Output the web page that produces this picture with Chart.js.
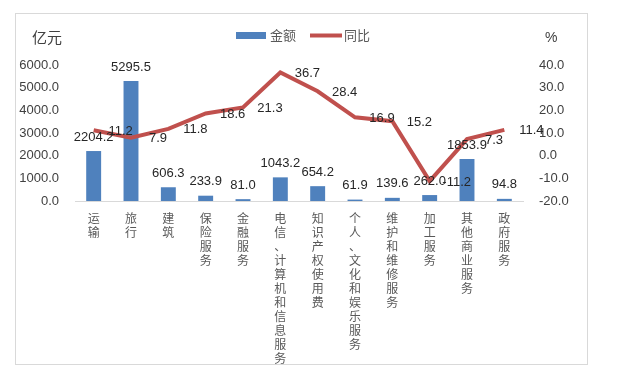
<!DOCTYPE html>
<html><head><meta charset="utf-8">
<script src="https://cdn.jsdelivr.net/npm/chart.js@4.4.0/dist/chart.umd.min.js"></script>
<style>html,body{margin:0;padding:0;background:#fff;}#wrap{position:relative;width:620px;height:379px;}</style>
</head><body><div id="wrap"><canvas id="c" width="620" height="379"></canvas></div>
<script>
const categories = ['运输','旅行','建筑','保险服务','金融服务','电信、计算机和信息服务','知识产权使用费','个人、文化和娱乐服务','维护和维修服务','加工服务','其他商业服务','政府服务'];
const amounts = [2204.2,5295.5,606.3,233.9,81.0,1043.2,654.2,61.9,139.6,262.0,1853.9,94.8];
const yoy = [11.2,7.9,11.8,18.6,21.3,36.7,28.4,16.9,15.2,-11.2,7.3,11.4];
const seriesNames = ['金额','同比'];
const leftAxis = {min:0, max:6000, step:1000, title:'亿元'};
const rightAxis = {min:-20, max:40, step:10, title:'%'};

const BLUE = '#4F81BD', RED = '#C0504D';
const NUM_FONT = '13px "Liberation Sans", Arial, sans-serif';
const CJK = '"Noto Sans CJK SC", sans-serif';

const decor = {
  id: 'decor',
  beforeDraw(chart) {
    const ctx = chart.ctx;
    ctx.save();
    ctx.fillStyle = '#fff';
    ctx.fillRect(0, 0, chart.width, chart.height);
    ctx.strokeStyle = '#D9D9D9';
    ctx.lineWidth = 1;
    ctx.strokeRect(15.5, 13.5, 572, 351);
    ctx.restore();
  },
  afterDatasetsDraw(chart) {
    const ctx = chart.ctx;
    ctx.save();
    ctx.font = NUM_FONT;
    ctx.fillStyle = '#262626';
    ctx.textBaseline = 'middle';
    ctx.textAlign = 'center';
    chart.getDatasetMeta(0).data.forEach((el, i) => {
      ctx.fillText(amounts[i].toFixed(1), el.x, el.y - 14);
    });
    chart.getDatasetMeta(1).data.forEach((el, i) => {
      ctx.fillText(yoy[i].toFixed(1), el.x + 27, el.y + 1);
    });
    ctx.restore();
  },
  afterDraw(chart) {
    const ctx = chart.ctx;
    ctx.save();
    ctx.textBaseline = 'middle';
    ctx.textAlign = 'left';
    ctx.fillStyle = BLUE;
    ctx.fillRect(236, 32, 30, 7);
    ctx.fillStyle = '#595959';
    ctx.font = '13px ' + CJK;
    ctx.fillText(seriesNames[0], 270, 35);
    ctx.strokeStyle = RED;
    ctx.lineWidth = 4;
    ctx.beginPath(); ctx.moveTo(310, 35.5); ctx.lineTo(342, 35.5); ctx.stroke();
    ctx.fillText(seriesNames[1], 344, 35);
    ctx.fillStyle = '#404040';
    ctx.font = '15px ' + CJK;
    ctx.fillText(leftAxis.title, 32, 37);
    ctx.font = '14px "Liberation Sans", Arial, sans-serif';
    ctx.fillText(rightAxis.title, 545, 38);
    ctx.restore();
  }
};

new Chart(document.getElementById('c'), {
  data: {
    labels: categories,
    datasets: [
      { type: 'bar', label: seriesNames[0], data: amounts, backgroundColor: BLUE, yAxisID: 'y', order: 1,
        barPercentage: 0.4, categoryPercentage: 1.0 },
      { type: 'line', label: seriesNames[1], data: yoy, borderColor: RED, borderWidth: 4, pointRadius: 0,
        tension: 0, fill: false, yAxisID: 'y1', order: 0 }
    ]
  },
  options: {
    responsive: false,
    animation: false,
    devicePixelRatio: 1,
    layout: { padding: { top: 65, left: 0, right: 0, bottom: 0 } },
    plugins: { legend: { display: false }, tooltip: { enabled: false } },
    scales: {
      x: {
        offset: true,
        grid: { display: false, drawTicks: false },
        border: { display: true, color: '#D9D9D9', width: 1 },
        ticks: {
          autoSkip: false, maxRotation: 0, minRotation: 0, padding: 10,
          color: '#595959',
          font: { family: CJK, size: 12, lineHeight: '14px' },
          callback: function(v, i) { return categories[i].split(''); }
        },
        afterFit(s) { s.height = 178; }
      },
      y: {
        position: 'left', min: leftAxis.min, max: leftAxis.max,
        grid: { display: false, drawTicks: false },
        border: { display: false },
        ticks: { stepSize: leftAxis.step, padding: 16, color: '#404040',
          font: { family: '"Liberation Sans", Arial, sans-serif', size: 13 },
          callback: v => Number(v).toFixed(1) },
        afterFit(s) { s.width = 75; }
      },
      y1: {
        position: 'right', min: rightAxis.min, max: rightAxis.max,
        grid: { display: false, drawTicks: false },
        border: { display: false },
        ticks: { stepSize: rightAxis.step, padding: 16, color: '#404040',
          font: { family: '"Liberation Sans", Arial, sans-serif', size: 13 },
          callback: v => Number(v).toFixed(1) },
        afterFit(s) { s.width = 97; }
      }
    }
  },
  plugins: [decor]
});
</script>
</body></html>
